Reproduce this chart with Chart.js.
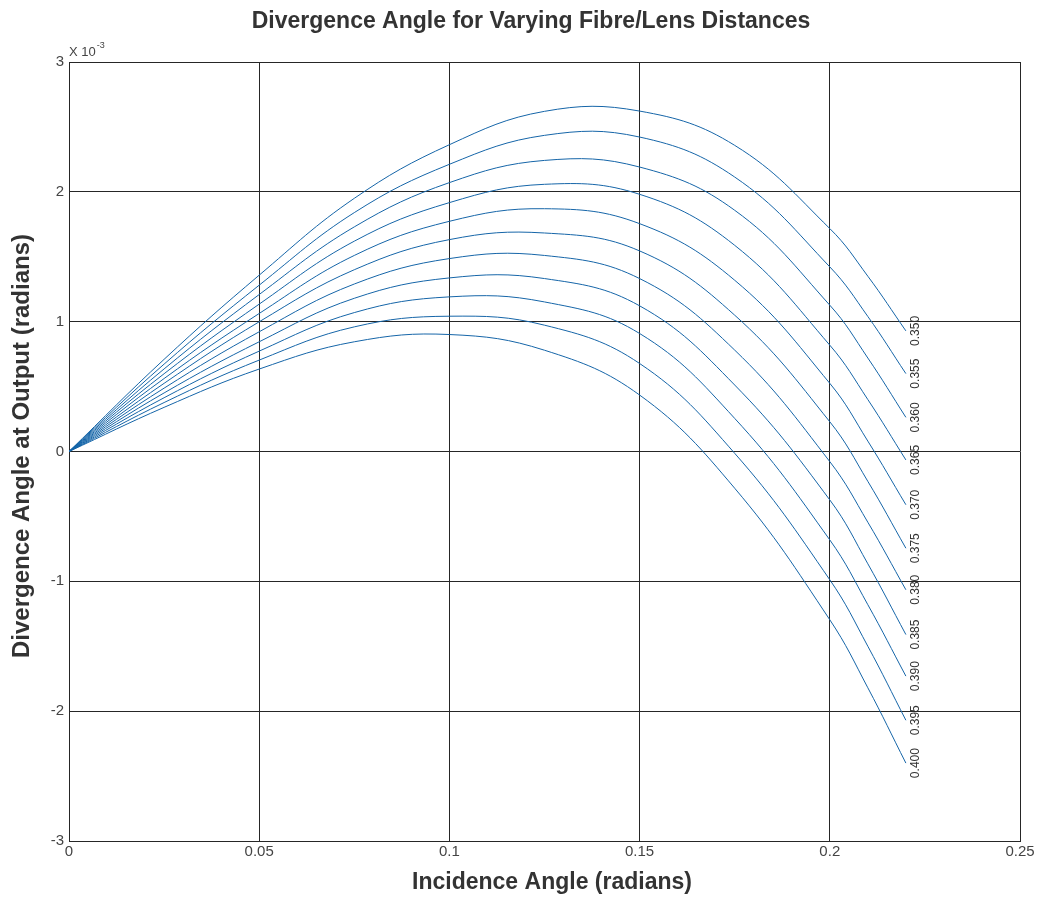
<!DOCTYPE html>
<html><head><meta charset="utf-8">
<script src="https://cdn.jsdelivr.net/npm/chart.js@4/dist/chart.umd.min.js"></script>
<style>html,body{margin:0;padding:0;background:#fff;}#wrap{width:1039px;height:897px;}</style>
</head><body><div id="wrap"><canvas id="c" width="1039" height="897"></canvas></div>
<script>
// ---- data (divergence in units of 1e-3 rad) ----
const incidence = [0, 0.025, 0.05, 0.075, 0.1, 0.125, 0.15, 0.175, 0.2, 0.21, 0.22];
const distanceLabels = ['0.350','0.355','0.360','0.365','0.370','0.375','0.380','0.385','0.390','0.395','0.400'];
const d350 = [0, 0.710, 1.358, 1.950, 2.363, 2.620, 2.622, 2.358, 1.717, 1.350, 0.929];
const d355 = [0, 0.673, 1.281, 1.840, 2.212, 2.435, 2.422, 2.114, 1.422, 1.040, 0.600];
const d360 = [0, 0.636, 1.209, 1.730, 2.071, 2.242, 2.191, 1.858, 1.127, 0.720, 0.263];
const d365 = [0, 0.599, 1.135, 1.620, 1.917, 2.058, 1.981, 1.588, 0.819, 0.400, -0.065];
const d370 = [0, 0.562, 1.063, 1.510, 1.773, 1.870, 1.755, 1.319, 0.525, 0.080, -0.410];
const d375 = [0, 0.525, 0.999, 1.400, 1.632, 1.683, 1.545, 1.050, 0.229, -0.230, -0.745];
const d380 = [0, 0.488, 0.922, 1.290, 1.486, 1.510, 1.332, 0.781, -0.078, -0.545, -1.065];
const d385 = [0, 0.451, 0.845, 1.180, 1.337, 1.332, 1.122, 0.512, -0.373, -0.865, -1.410];
const d390 = [0, 0.414, 0.773, 1.070, 1.191, 1.152, 0.909, 0.255, -0.681, -1.180, -1.730];
const d395 = [0, 0.377, 0.704, 0.960, 1.042, 0.973, 0.678, -0.014, -0.988, -1.500, -2.070];
const d400 = [0, 0.340, 0.635, 0.845, 0.901, 0.780, 0.435, -0.283, -1.296, -1.820, -2.400];
const seriesList = [d350, d355, d360, d365, d370, d375, d380, d385, d390, d395, d400];
const xTickLabels = ['0', '0.05', '0.1', '0.15', '0.2', '0.25'];
const yTickLabels = ['-3', '-2', '-1', '0', '1', '2', '3'];
const chartTitle = 'Divergence Angle for Varying Fibre/Lens Distances';
const xTitle = 'Incidence Angle (radians)';
const yTitle = 'Divergence Angle at Output (radians)';

const FONT = '"Liberation Sans", Arial, Helvetica, sans-serif';
const LINE = '#1565a8';
const GRID = '#262626';
Chart.defaults.font.family = FONT;

const datasets = seriesList.map((s, i) => ({
  label: distanceLabels[i],
  data: incidence.map((x, j) => ({x: x, y: s[j]})),
  borderColor: LINE,
  borderWidth: 1,
  pointRadius: 0,
  tension: 0.4,
  fill: false
}));

const annot = {
  id: 'annot',
  afterDraw(chart) {
    const ctx = chart.ctx;
    const a = chart.chartArea;
    ctx.save();
    ctx.fillStyle = '#333';
    ctx.font = 'bold 23px ' + FONT;
    ctx.textAlign = 'center';
    ctx.textBaseline = 'middle';
    ctx.fillText(chartTitle, 531, 22);
    ctx.fillText(xTitle, 552, 883);
    ctx.save();
    ctx.translate(22, 446);
    ctx.rotate(-Math.PI / 2);
    ctx.font = 'bold 24px ' + FONT;
    ctx.fillText(yTitle, 0, 0);
    ctx.restore();
    ctx.fillStyle = '#444';
    ctx.font = '13px ' + FONT;
    ctx.textAlign = 'left';
    ctx.textBaseline = 'alphabetic';
    ctx.fillText('X 10', a.left, a.top - 6);
    const w = ctx.measureText('X 10').width;
    ctx.font = '9px ' + FONT;
    ctx.fillText('-3', a.left + w + 1, a.top - 14);
    ctx.font = '12px ' + FONT;
    ctx.fillStyle = '#333';
    chart.data.datasets.forEach((ds, i) => {
      const meta = chart.getDatasetMeta(i);
      const pt = meta.data[meta.data.length - 1];
      ctx.save();
      ctx.translate(pt.x + 10, pt.y - 15);
      ctx.rotate(-Math.PI / 2);
      ctx.textAlign = 'right';
      ctx.textBaseline = 'middle';
      ctx.fillText(ds.label, 0, 0);
      ctx.restore();
    });
    ctx.restore();
  }
};

new Chart(document.getElementById('c'), {
  type: 'line',
  data: {datasets: datasets},
  options: {
    responsive: false,
    animation: false,
    devicePixelRatio: 1,
    layout: {padding: {top: 62, right: 19, left: 0, bottom: 0}},
    plugins: {legend: {display: false}, tooltip: {enabled: false}, title: {display: false}},
    scales: {
      x: {
        type: 'linear', min: 0, max: 0.25,
        ticks: {stepSize: 0.05, color: '#444', font: {size: 15}, padding: 2, maxRotation: 0, autoSkip: false,
          callback: v => xTickLabels[Math.round(v / 0.05)]},
        grid: {color: GRID, lineWidth: 1, drawTicks: false},
        border: {display: true, color: GRID, width: 1},
        title: {display: false},
        afterFit: s => { s.height = 56; }
      },
      y: {
        type: 'linear', min: -3, max: 3,
        ticks: {stepSize: 1, color: '#444', font: {size: 15}, padding: 5,
          callback: v => yTickLabels[Math.round(v) + 3]},
        grid: {color: GRID, lineWidth: 1, drawTicks: false},
        border: {display: true, color: GRID, width: 1},
        title: {display: false},
        afterFit: s => { s.width = 69; }
      }
    }
  },
  plugins: [annot]
});
</script></body></html>
